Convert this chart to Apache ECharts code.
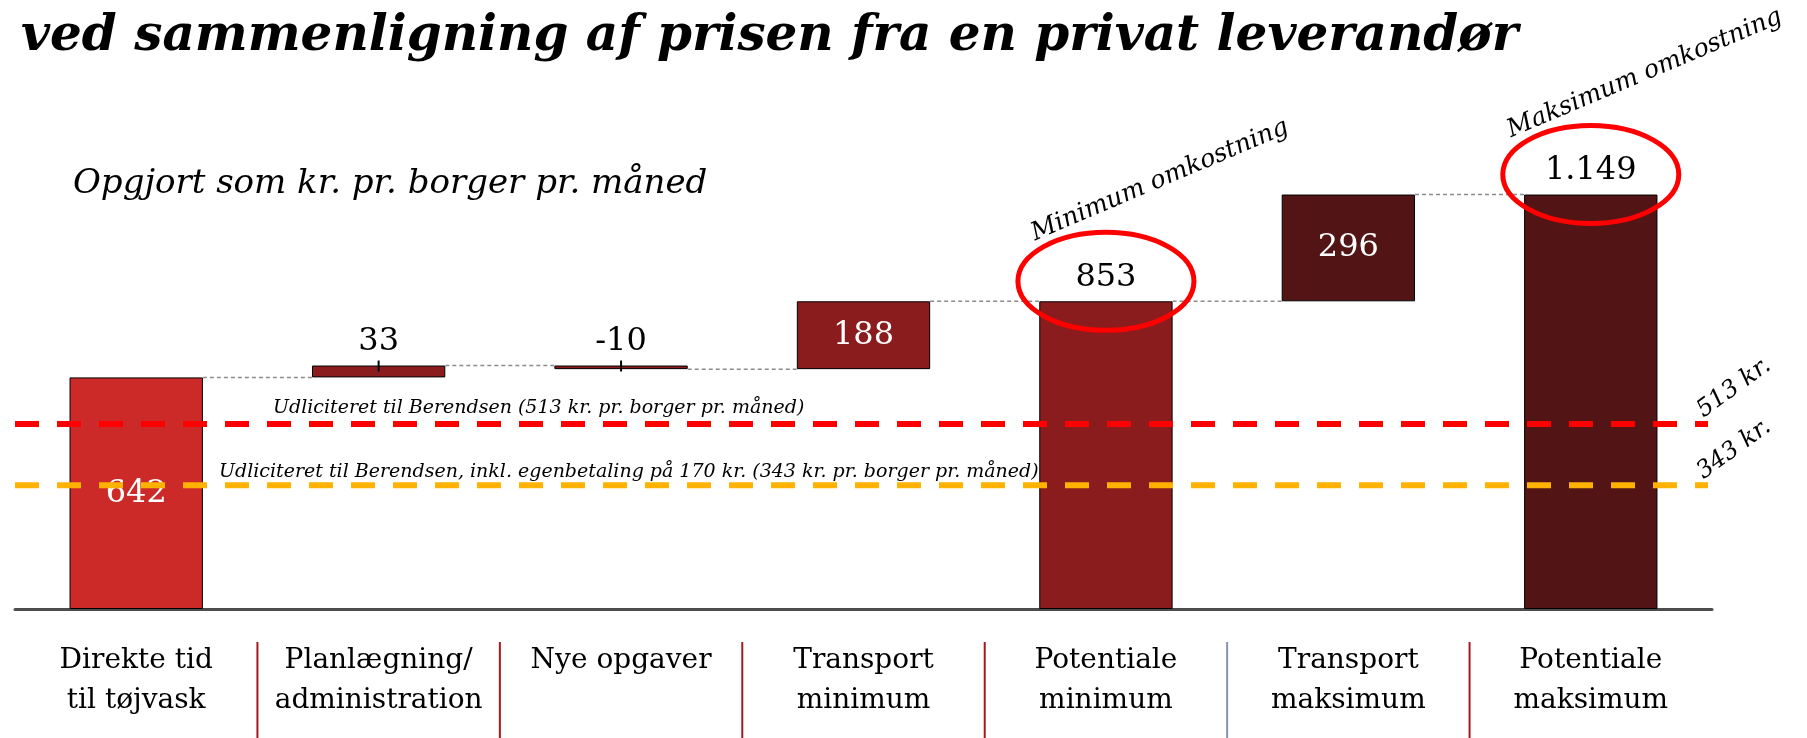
<!DOCTYPE html>
<html>
<head>
<meta charset="utf-8">
<title>Potentiale ved sammenligning</title>
<script src="https://cdn.jsdelivr.net/npm/echarts@6/dist/echarts.min.js"></script>
<style>
  html, body { margin: 0; padding: 0; background: #fff; }
  #chart { width: 1807px; height: 738px; }
</style>
</head>
<body>
<div id="chart"></div>
<script>
// data
const categories = [
  'Direkte tid\ntil tøjvask',
  'Planlægning/\nadministration',
  'Nye opgaver',
  'Transport\nminimum',
  'Potentiale\nminimum',
  'Transport\nmaksimum',
  'Potentiale\nmaksimum'
]
const values = [642, 33, -10, 188, 853, 296, 1149]
const isTotal = [true, false, false, false, true, false, true]
const valueLabels = ['642', '33', '-10', '188', '853', '296', '1.149']
const annotations = ['', '', '', '', 'Minimum omkostning', '', 'Maksimum omkostning']

const refValues = [513, 343]
const refLabels = [
  'Udliciteret til Berendsen (513 kr. pr. borger pr. måned)',
  'Udliciteret til Berendsen, inkl. egenbetaling på 170 kr. (343 kr. pr. borger pr. måned)'
]
const refEndLabels = ['513 kr.', '343 kr.']

// styles
const serif = '"DejaVu Serif", "Liberation Serif", serif'
const barPalette = ['#cb2a29', '#8a1c1e', '#8a1c1e', '#8a1c1e', '#8a1c1e', '#521415', '#521415']
const refColors = ['#ff0000', '#ffb300']
const sepColors = ['', '#a3191d', '#a3191d', '#a3191d', '#a3191d', '#8594a8', '#a3191d']
const barRatio = 0.55

// waterfall: invisible base + visible part, running total after each step
const base = []
const visible = []
const running = []
let run = 0
values.forEach((v, i) => {
  if (isTotal[i]) {
    base.push(0)
    visible.push(v)
    run = v
  } else if (v >= 0) {
    base.push(run)
    visible.push(v)
    run += v
  } else {
    base.push(run + v)
    visible.push(-v)
    run += v
  }
  running.push(run)
})

const chart = echarts.init(document.getElementById('chart'))

chart.setOption({
  animation: false,
  title: [
    {
      text: 'ved sammenligning af prisen fra en privat leverandør',
      left: 16,
      top: 7,
      textStyle: { fontFamily: serif, fontSize: 50, fontStyle: 'italic', fontWeight: 'bold', color: '#000' }
    },
    {
      text: 'Opgjort som kr. pr. borger pr. måned',
      left: 68,
      top: 162,
      textStyle: { fontFamily: serif, fontSize: 34, fontStyle: 'italic', fontWeight: 'normal', color: '#000' }
    }
  ],
  grid: { left: 15, right: 95, top: 104, bottom: 129 },
  xAxis: {
    type: 'category',
    data: categories,
    axisLine: { lineStyle: { color: '#4d4d4d', width: 3 } },
    axisTick: { show: false },
    axisLabel: {
      interval: 0,
      margin: 32,
      fontFamily: serif,
      fontSize: 28,
      lineHeight: 40,
      color: '#000'
    }
  },
  yAxis: {
    type: 'value',
    min: 0,
    max: 1400,
    show: false
  },
  series: [
    {
      name: 'base',
      type: 'bar',
      stack: 'wf',
      silent: true,
      barWidth: barRatio * 100 + '%',
      itemStyle: { color: 'transparent' },
      data: base
    },
    {
      name: 'value',
      type: 'bar',
      stack: 'wf',
      barWidth: barRatio * 100 + '%',
      data: visible.map((v, i) => {
        const inside = !annotations[i] && Math.abs(values[i]) >= 100
        return {
          value: v,
          itemStyle: { color: barPalette[i], borderColor: '#000', borderWidth: 1 },
          label: {
            show: true,
            position: inside ? 'inside' : 'top',
            distance: 8,
            color: inside ? '#fff' : '#000'
          }
        }
      }),
      label: {
        fontFamily: serif,
        fontSize: 32,
        formatter: p => valueLabels[p.dataIndex]
      }
    },
    {
      // connectors, small marks, circles, annotations and label separators
      name: 'deco',
      type: 'custom',
      clip: false,
      silent: true,
      z: 5,
      data: running.map((r, i) => [i, r]),
      encode: { x: 0, y: 1 },
      renderItem(params, api) {
        const i = params.dataIndex
        const cs = params.coordSys
        const cx = api.coord([i, 0])[0]
        const band = api.size([1, 0])[0]
        const half = band * barRatio / 2
        const top = api.coord([i, base[i] + visible[i]])[1]
        const children = []
        if (i < categories.length - 1) {
          const y = api.coord([i, running[i]])[1]
          children.push({
            type: 'line',
            shape: { x1: cx + half, y1: y, x2: api.coord([i + 1, 0])[0] - half, y2: y },
            style: { stroke: '#8c8c8c', lineWidth: 1.5, lineDash: [4, 3] }
          })
        }
        if (!isTotal[i] && Math.abs(values[i]) < 100) {
          children.push({
            type: 'line',
            shape: { x1: cx, y1: top - 5, x2: cx, y2: top + 6 },
            style: { stroke: '#000', lineWidth: 2 }
          })
        }
        if (annotations[i]) {
          children.push({
            type: 'ellipse',
            shape: { cx: cx, cy: top - 20, rx: 88, ry: 49 },
            style: { fill: null, stroke: '#ff0000', lineWidth: 5 }
          })
          children.push({
            type: 'text',
            x: cx + 54,
            y: top - 121,
            rotation: 23 * Math.PI / 180,
            style: {
              text: annotations[i],
              font: 'italic 25px ' + serif,
              fill: '#000',
              align: 'center',
              verticalAlign: 'middle'
            }
          })
        }
        if (i > 0) {
          const x = cx - band / 2
          children.push({
            type: 'line',
            shape: { x1: x, y1: cs.y + cs.height + 33, x2: x, y2: api.getHeight() },
            style: { stroke: sepColors[i], lineWidth: 2 }
          })
        }
        return { type: 'group', children }
      }
    },
    {
      name: 'ref',
      type: 'custom',
      clip: false,
      silent: true,
      z: 6,
      data: refValues.map(v => [0, v]),
      encode: { x: 0, y: 1 },
      renderItem(params, api) {
        const i = params.dataIndex
        const cs = params.coordSys
        const y = api.coord([0, refValues[i]])[1]
        const right = cs.x + cs.width - 4
        return {
          type: 'group',
          children: [
            {
              type: 'line',
              shape: { x1: cs.x, y1: y, x2: right, y2: y },
              style: { stroke: refColors[i], lineWidth: 6, lineDash: [24, 18] }
            },
            {
              type: 'text',
              x: cs.x + [258, 204][i],
              y: y - [16, 13][i],
              style: {
                text: refLabels[i],
                font: 'italic 19px ' + serif,
                fill: '#000',
                align: 'left',
                verticalAlign: 'middle'
              }
            },
            {
              type: 'text',
              x: right + 26,
              y: y - 36,
              rotation: 36 * Math.PI / 180,
              style: {
                text: refEndLabels[i],
                font: 'italic 24px ' + serif,
                fill: '#000',
                align: 'center',
                verticalAlign: 'middle'
              }
            }
          ]
        }
      }
    }
  ]
})
</script>
</body>
</html>
